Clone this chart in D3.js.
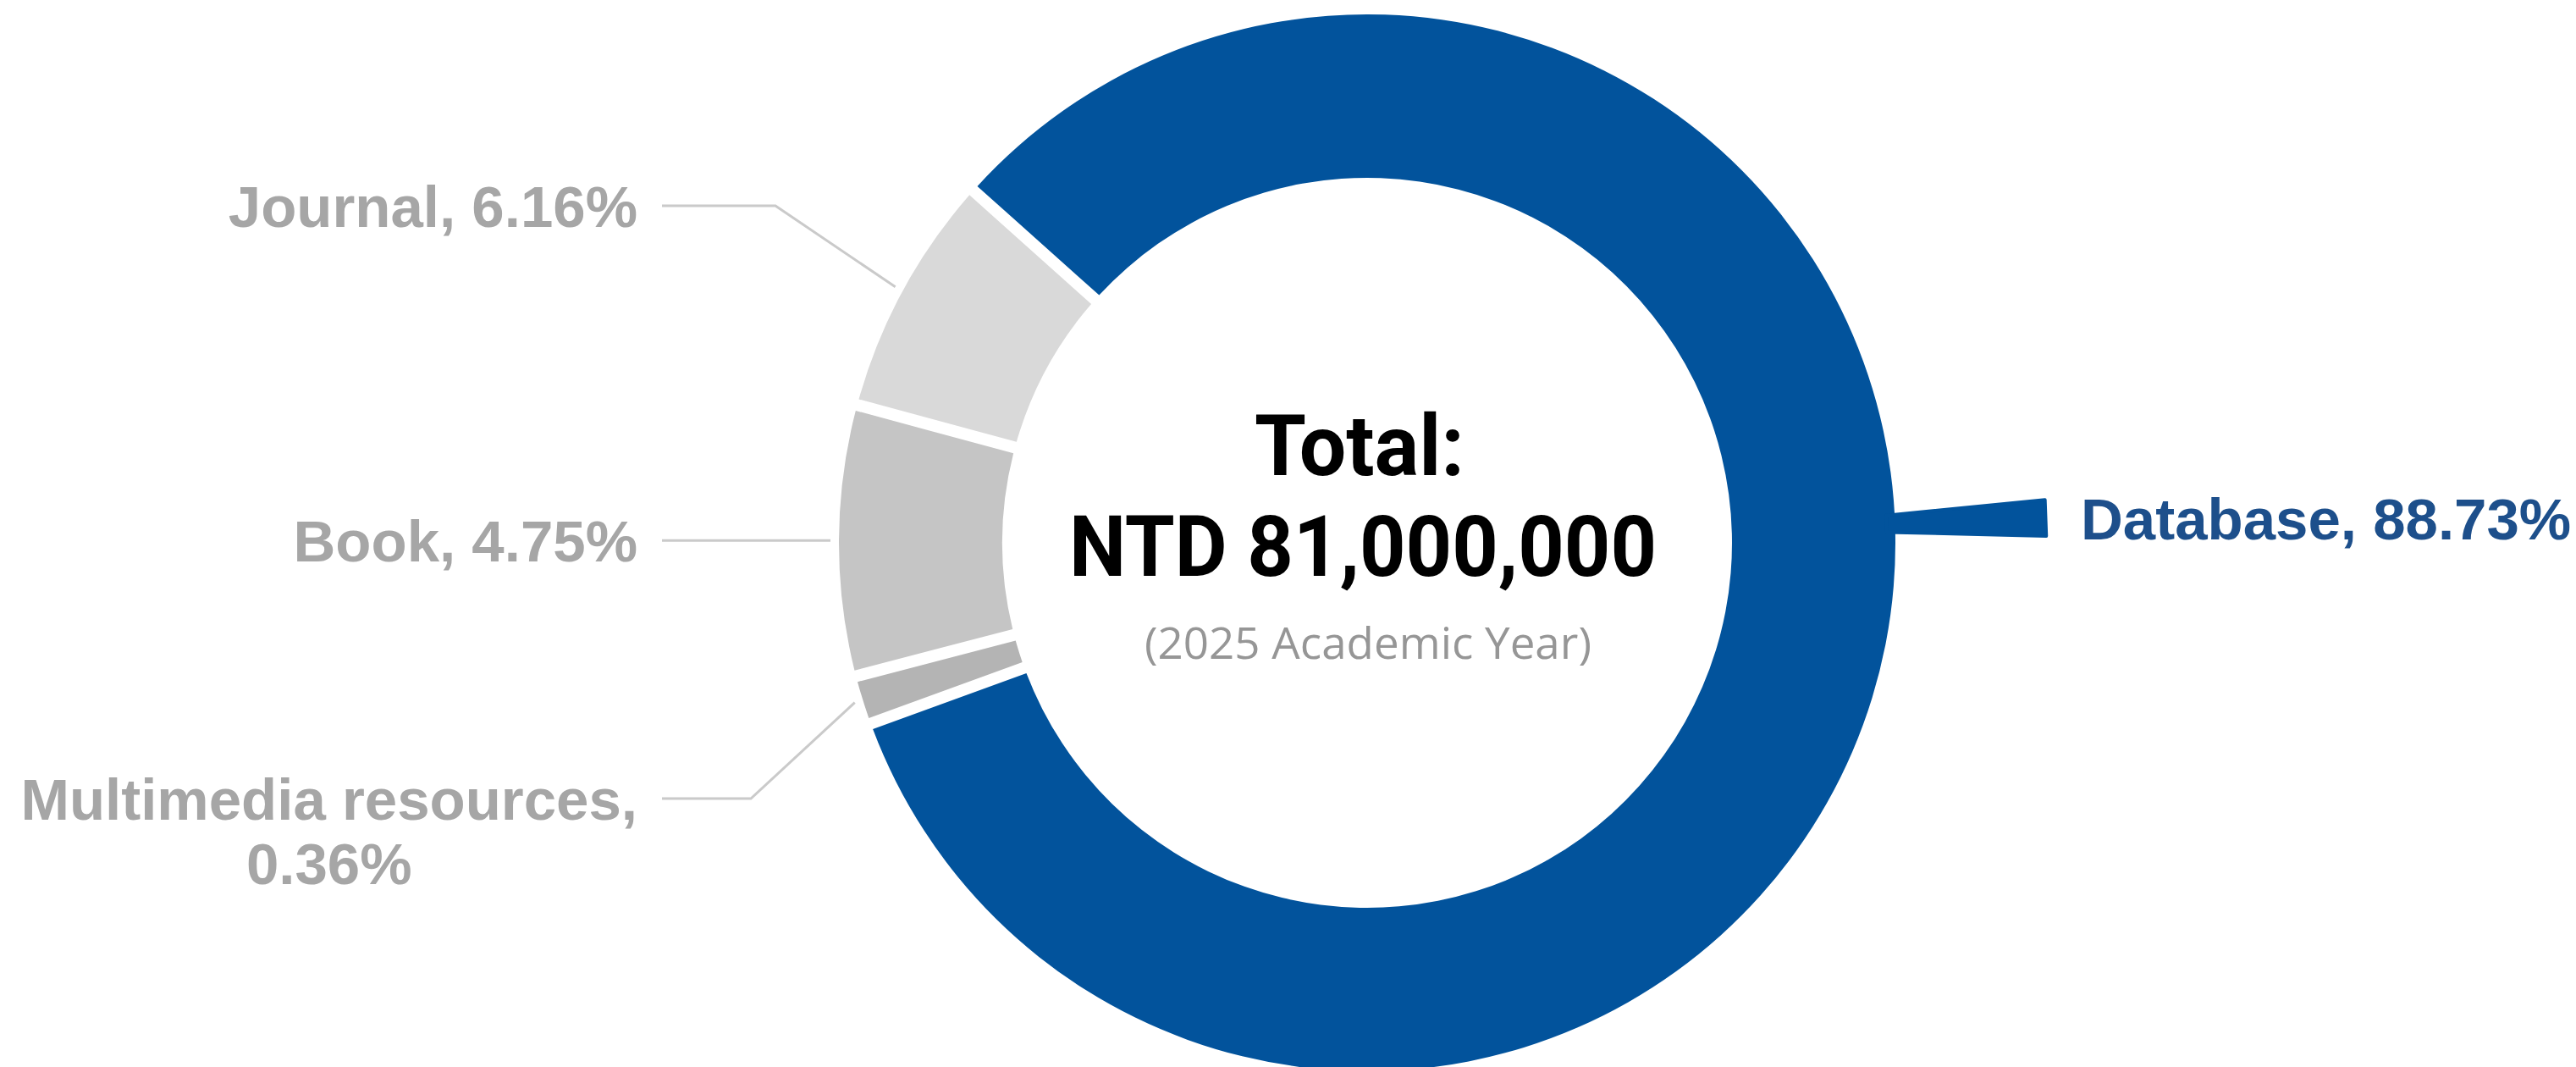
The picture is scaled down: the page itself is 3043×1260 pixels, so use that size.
<!DOCTYPE html>
<html>
<head>
<meta charset="utf-8">
<script src="https://cdn.jsdelivr.net/npm/d3@7"></script>
<style>
  body { margin: 0; background: #fff; }
  svg { display: block; }
</style>
</head>
<body>
<div id="chart"></div>
<script>
// Data (ring order, clockwise from the top-left gap)
const categories = ["Database", "Multimedia resources", "Book", "Journal"];
const percents = [88.73, 0.36, 4.75, 6.16];
// sweep of each slice as it is drawn in the source picture (% of the ring)
const ringShare = [82.83, 1.50, 8.26, 7.41];
const totalNTD = 81000000;
const yearLabel = "2025 Academic Year";

// Layout
const width = 3043;
const height = 1260;
const cx = 1615, cy = 641;
const outerR = 624, innerR = 431;
const deg = Math.PI / 180;
const startAngle = -48.2 * deg;

const color = d3.scaleOrdinal()
    .domain(categories)
    .range(["#02539c", "#b4b4b4", "#c5c5c5", "#d9d9d9"]);

const slices = categories.map((name, i) => ({ name, pct: percents[i], share: ringShare[i] }));

const pie = d3.pie()
    .sort(null)
    .value(d => d.share)
    .startAngle(startAngle)
    .endAngle(startAngle + 2 * Math.PI);

const arc = d3.arc()
    .innerRadius(innerR)
    .outerRadius(outerR)
    .padRadius(outerR)
    .padAngle(14 / outerR);

// polar -> absolute page coords (angle clockwise from 12 o'clock)
function polar(a, r) {
    return [cx + r * Math.sin(a), cy - r * Math.cos(a)];
}

const svg = d3.select("#chart").append("svg")
    .attr("width", width)
    .attr("height", height);

const arcs = pie(slices);

// Ring
svg.append("g")
    .attr("transform", `translate(${cx},${cy})`)
    .selectAll("path")
    .data(arcs)
    .enter().append("path")
    .attr("d", arc)
    .attr("fill", d => color(d.data.name));

const pctFmt = d => d.toFixed(2) + "%";
const labelFont = "'Liberation Sans', Arial, Helvetica, sans-serif";

// Database: tapered blue pointer + label on the right
const dbAngle = 87.9 * deg;
const halfW = r => 10.5 + (r - outerR) * 11 / 180;
const u = [Math.sin(dbAngle), -Math.cos(dbAngle)];
const n = [Math.cos(dbAngle), Math.sin(dbAngle)];
const wedgePt = (r, s) => [cx + u[0] * r + n[0] * s * halfW(r), cy + u[1] * r + n[1] * s * halfW(r)];
const rA = outerR - 10, rB = outerR + 178;
svg.append("path")
    .attr("d", d3.line()([wedgePt(rA, -1), wedgePt(rB, -1), wedgePt(rB, 1), wedgePt(rA, 1)]) + "Z")
    .attr("fill", color("Database"))
    .attr("stroke", color("Database"))
    .attr("stroke-width", 4)
    .attr("stroke-linejoin", "round");

const dbTip = polar(dbAngle, rB);
svg.append("text")
    .attr("x", 2458)
    .attr("y", dbTip[1] + 25)
    .attr("font-family", labelFont)
    .attr("font-weight", "bold")
    .attr("font-size", 69)
    .attr("fill", "#1d4f8b")
    .text(`${slices[0].name}, ${pctFmt(slices[0].pct)}`);

// Grey slices: leader lines + labels on the left
const leaderStartX = 782;
const labelRightX = 753;
const leader = {
    "Journal": { y: 243, elbowX: 916 },
    "Book": {},
    "Multimedia resources": { y: 943, elbowX: 887 }
};

arcs.filter(d => d.data.name !== "Database").forEach(d => {
    const mid = (d.startAngle + d.endAngle) / 2;
    const end = polar(mid, outerR + 10);
    const L = leader[d.data.name];
    const lineY = L.y !== undefined ? L.y : end[1];
    const pts = L.elbowX !== undefined
        ? [[leaderStartX, lineY], [L.elbowX, lineY], end]
        : [[leaderStartX, lineY], end];

    svg.append("path")
        .attr("d", d3.line()(pts))
        .attr("fill", "none")
        .attr("stroke", "#cacaca")
        .attr("stroke-width", 3);

    const lines = d.data.name.length > 12
        ? [d.data.name + ",", pctFmt(d.data.pct)]
        : [`${d.data.name}, ${pctFmt(d.data.pct)}`];

    const t = svg.append("text")
        .attr("font-family", labelFont)
        .attr("font-weight", "bold")
        .attr("font-size", 69)
        .attr("fill", "#a6a6a6")
        .attr("text-anchor", "middle");

    const spans = lines.map((s, i) => t.append("tspan")
        .attr("y", lineY + 25 + i * 76)
        .text(s));
    const w = d3.max(spans, s => s.node().getComputedTextLength());
    spans.forEach(s => s.attr("x", labelRightX - w / 2));
});

// Centre text
const titleFont = "Roboto, 'Liberation Sans', sans-serif";
svg.append("text")
    .attr("x", cx - 9).attr("y", 561)
    .attr("text-anchor", "middle")
    .attr("font-family", titleFont)
    .attr("font-weight", "bold")
    .attr("font-size", 100)
    .attr("textLength", 248)
    .attr("lengthAdjust", "spacingAndGlyphs")
    .attr("fill", "#000")
    .text("Total:");

svg.append("text")
    .attr("x", cx - 5).attr("y", 680)
    .attr("text-anchor", "middle")
    .attr("font-family", titleFont)
    .attr("font-weight", "bold")
    .attr("font-size", 100)
    .attr("textLength", 694)
    .attr("lengthAdjust", "spacingAndGlyphs")
    .attr("fill", "#000")
    .text("NTD " + d3.format(",")(totalNTD));

svg.append("text")
    .attr("x", cx + 1).attr("y", 778)
    .attr("text-anchor", "middle")
    .attr("font-family", "'Open Sans', 'Noto Sans', sans-serif")
    .attr("font-size", 51)
    .attr("textLength", 528)
    .attr("lengthAdjust", "spacingAndGlyphs")
    .attr("fill", "#969696")
    .text(`(${yearLabel})`);
</script>
</body>
</html>
